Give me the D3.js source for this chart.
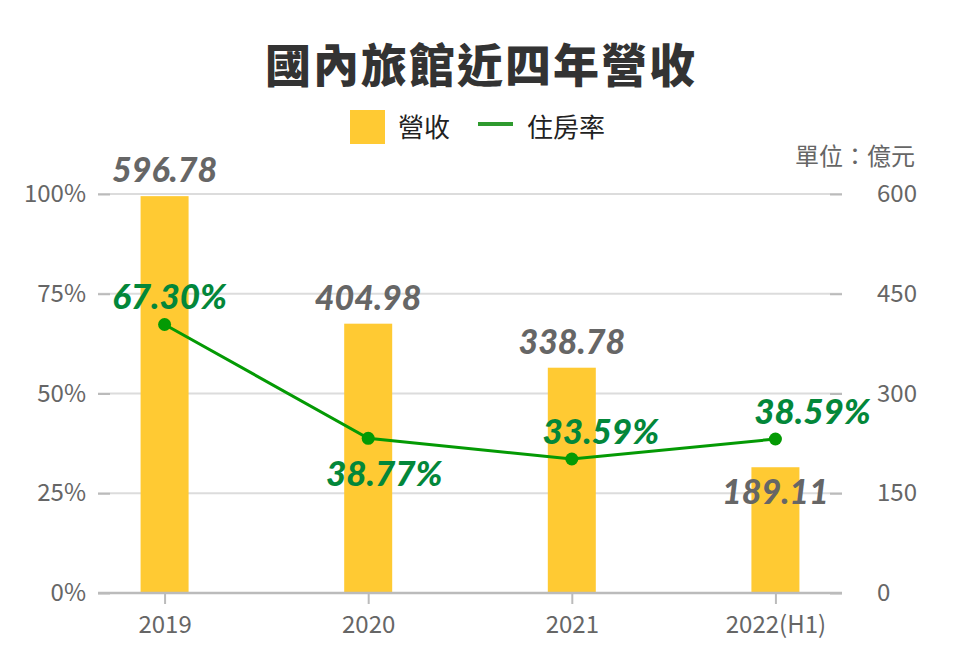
<!DOCTYPE html>
<html><head><meta charset="utf-8">
<script src="https://cdn.jsdelivr.net/npm/d3@7"></script>
<style>
body{margin:0;background:#fff;}
svg{display:block;}
</style></head>
<body>
<svg id="chart" width="960" height="660"></svg>
<script>
const categories = ["2019", "2020", "2021", "2022(H1)"];
const revenue = [596.78, 404.98, 338.78, 189.11];
const occupancy = [67.30, 38.77, 33.59, 38.59];
const leftTicks = [0, 25, 50, 75, 100];
const rightTicks = [0, 150, 300, 450, 600];
const title = "國內旅館近四年營收";
const legendLabels = ["營收", "住房率"];
const unitLabel = "單位：億元";

const W = 960, H = 660;
const m = {left: 98, right: 842, top: 194, bottom: 593};
const svg = d3.select("#chart");
const cjk = "'Noto Sans CJK TC','Noto Sans CJK SC',sans-serif";
const numFont = "Lato,'Noto Sans',sans-serif";
const barColor = "#FFCA33", lineColor = "#049A04", lineLabelColor = "#03873A", grayText = "#666";

const x = d3.scalePoint().domain(categories).range([m.left, m.right]).padding(0.327);
const yL = d3.scaleLinear().domain([0, 100]).range([m.bottom, m.top]);
const yR = d3.scaleLinear().domain([0, 600]).range([m.bottom, m.top]);

// Title
svg.append("text").attr("x", 481).attr("y", 82).attr("text-anchor", "middle")
  .attr("font-family", cjk).attr("font-weight", 900).attr("font-size", 46)
  .attr("fill", "#333").attr("letter-spacing", 2).text(title);

// Legend
svg.append("rect").attr("x", 350).attr("y", 110).attr("width", 35).attr("height", 34).attr("fill", barColor);
svg.append("text").attr("x", 398).attr("y", 137).attr("font-family", cjk).attr("font-size", 26)
  .attr("fill", "#222").text(legendLabels[0]);
svg.append("line").attr("x1", 478).attr("x2", 513).attr("y1", 124).attr("y2", 124)
  .attr("stroke", "#2E9A2E").attr("stroke-width", 4);
svg.append("text").attr("x", 527).attr("y", 137).attr("font-family", cjk).attr("font-size", 26)
  .attr("fill", "#222").text(legendLabels[1]);

// Unit label
svg.append("text").attr("x", 915).attr("y", 165).attr("text-anchor", "end")
  .attr("font-family", cjk).attr("font-size", 24).attr("fill", grayText).text(unitLabel);

// Gridlines
svg.append("g").selectAll("line").data(leftTicks.slice(1)).join("line")
  .attr("x1", m.left).attr("x2", m.right).attr("y1", d => yL(d)).attr("y2", d => yL(d))
  .attr("stroke", "#dcdcdc").attr("stroke-width", 2);

// Left axis
const gL = svg.append("g").attr("transform", `translate(${m.left},0)`)
  .call(d3.axisLeft(yL).tickValues(leftTicks).tickFormat(d => d + "%").tickSize(-12).tickPadding(12));
gL.select(".domain").remove();
gL.selectAll(".tick line").attr("stroke", "#bbb").attr("stroke-width", 2);
gL.selectAll(".tick text").attr("font-family", cjk).attr("font-size", 24).attr("fill", grayText);

// Right axis
const gR = svg.append("g").attr("transform", `translate(${m.right},0)`)
  .call(d3.axisRight(yR).tickValues(rightTicks).tickSize(-12).tickPadding(35));
gR.select(".domain").remove();
gR.selectAll(".tick line").attr("stroke", "#bbb").attr("stroke-width", 2);
gR.selectAll(".tick text").attr("font-family", cjk).attr("font-size", 24).attr("fill", grayText);

// Bars
const barW = 48;
svg.append("g").selectAll("rect").data(revenue).join("rect")
  .attr("x", (d, i) => x(categories[i]) - barW / 2).attr("width", barW)
  .attr("y", d => yR(d)).attr("height", d => yR(0) - yR(d)).attr("fill", barColor);

// Bottom axis
const gB = svg.append("g").attr("transform", `translate(0,${m.bottom})`)
  .call(d3.axisBottom(x).tickSize(11).tickPadding(12));
gB.select(".domain").attr("d", `M${m.left},0H${m.right}`).attr("stroke", "#bbb").attr("stroke-width", 2.5);
gB.selectAll(".tick line").attr("stroke", "#bbb").attr("stroke-width", 2);
gB.selectAll(".tick text").attr("font-family", cjk).attr("font-size", 24).attr("fill", grayText);

// Bar labels
svg.append("g").selectAll("text").data(revenue).join("text")
  .attr("x", (d, i) => x(categories[i]))
  .attr("y", (d, i) => i === revenue.length - 1 ? yR(d) + 37 : yR(d) - 14)
  .attr("text-anchor", "middle").attr("font-family", numFont).attr("font-style", "italic")
  .attr("font-weight", 900).attr("font-size", 34).attr("fill", grayText)
  .text(d => d.toFixed(2));

// Line
const line = d3.line().x((d, i) => x(categories[i])).y(d => yL(d));
svg.append("path").datum(occupancy).attr("d", line).attr("fill", "none")
  .attr("stroke", lineColor).attr("stroke-width", 3);
svg.append("g").selectAll("circle").data(occupancy).join("circle")
  .attr("cx", (d, i) => x(categories[i])).attr("cy", d => yL(d)).attr("r", 6.5).attr("fill", lineColor);

// Line labels
svg.append("g").selectAll("text").data(occupancy).join("text")
  .attr("x", (d, i) => x(categories[i]) + (i === 0 ? 5 : i === 1 ? 16 : i === 2 ? 29 : 37))
  .attr("y", (d, i) => i === 1 ? yL(d) + 48 : yL(d) - 15)
  .attr("text-anchor", "middle").attr("font-family", numFont).attr("font-style", "italic")
  .attr("font-weight", 900).attr("font-size", 35).attr("fill", lineLabelColor)
  .text(d => d.toFixed(2) + "%");
</script>
</body></html>
